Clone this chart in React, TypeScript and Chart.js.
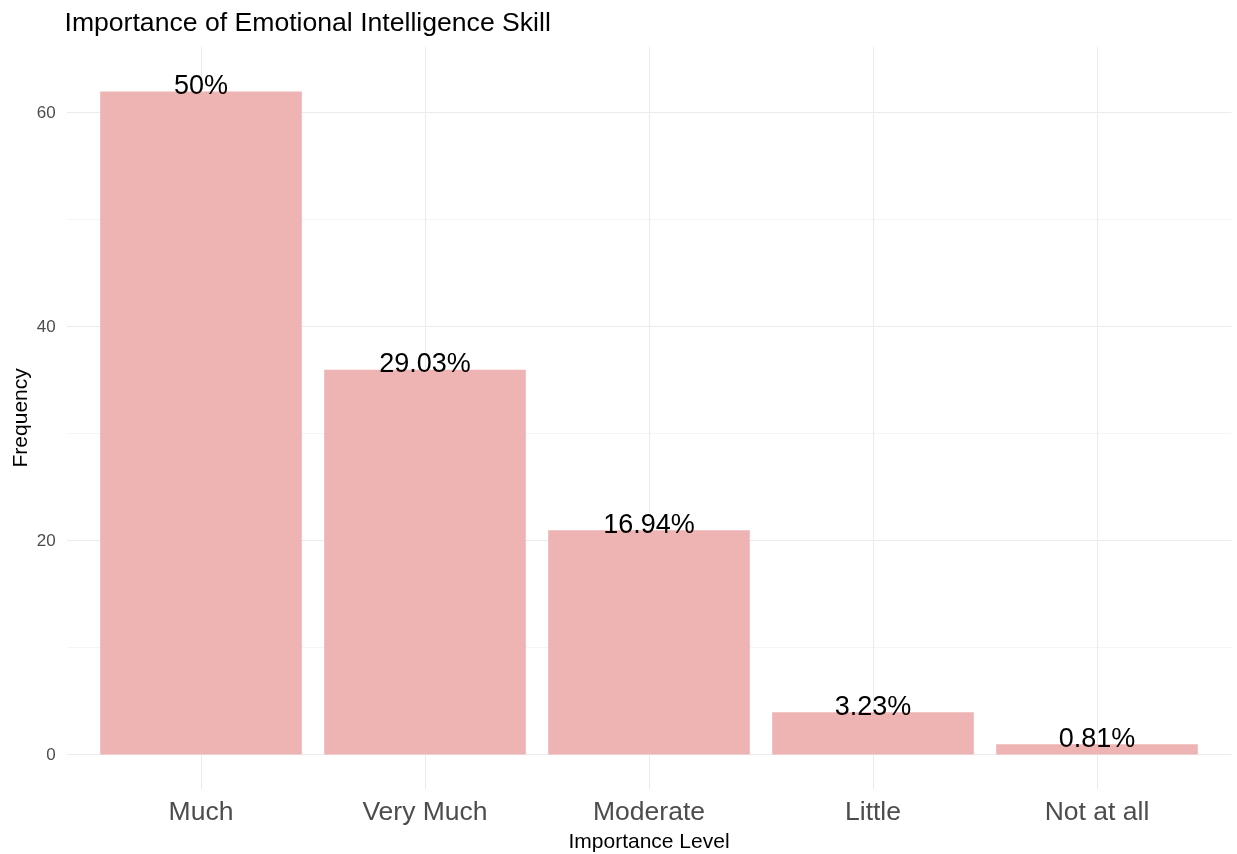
import React, { useEffect, useRef } from "react";
import { Chart, registerables } from "chart.js";

Chart.register(...registerables);

const categories = ["Much", "Very Much", "Moderate", "Little", "Not at all"];
const frequencies = [62, 36, 21, 4, 1];
const percentLabels = ["50%", "29.03%", "16.94%", "3.23%", "0.81%"];
const yMajorTicks = [0, 20, 40, 60];
const yAllTicks = [0, 10, 20, 30, 40, 50, 60];
const chartTitle = "Importance of Emotional Intelligence Skill";
const xTitle = "Importance Level";
const yTitle = "Frequency";

const FONT = '"Liberation Sans", Arial, Helvetica, sans-serif';
const W = 1237;
const H = 854;

const textPlugin = {
  id: "textPlugin",
  afterDatasetsDraw(chart: any) {
    const ctx = chart.ctx;
    const meta = chart.getDatasetMeta(0);
    ctx.save();
    ctx.fillStyle = "#000000";
    ctx.font = `27px ${FONT}`;
    ctx.textAlign = "center";
    ctx.textBaseline = "alphabetic";
    meta.data.forEach((el: any, i: number) => {
      ctx.fillText(percentLabels[i], el.x, el.y + 2.5);
    });
    ctx.restore();
  },
  afterDraw(chart: any) {
    const ctx = chart.ctx;
    const area = chart.chartArea;
    ctx.save();
    ctx.fillStyle = "#000000";
    ctx.font = `26.6px ${FONT}`;
    ctx.textAlign = "left";
    ctx.textBaseline = "alphabetic";
    ctx.fillText(chartTitle, 64.5, 31);

    ctx.font = `21px ${FONT}`;
    ctx.textAlign = "center";
    ctx.fillText(xTitle, (area.left + area.right) / 2, 848);

    ctx.translate(27, (area.top + area.bottom) / 2);
    ctx.rotate(-Math.PI / 2);
    ctx.fillText(yTitle, 0, 0);
    ctx.restore();
  },
};

export default function App() {
  const ref = useRef<HTMLCanvasElement | null>(null);

  useEffect(() => {
    if (!ref.current) return;
    const chart = new Chart(ref.current, {
      type: "bar",
      data: {
        datasets: [
          {
            data: frequencies.map((v, i) => ({ x: i, y: v })),
            backgroundColor: "#EEB3B3",
            borderWidth: 0,
            barPercentage: 0.9,
            categoryPercentage: 1,
          } as any,
        ],
      },
      options: {
        animation: false,
        responsive: false,
        maintainAspectRatio: false,
        layout: { padding: { top: 47, right: 5.6, left: 0, bottom: 0 } },
        plugins: {
          legend: { display: false },
          tooltip: { enabled: false },
          title: { display: false },
        },
        scales: {
          x: {
            type: "linear",
            min: -0.6,
            max: 4.6,
            offset: false,
            afterBuildTicks: (axis: any) => {
              axis.ticks = categories.map((_, i) => ({ value: i }));
            },
            afterFit: (axis: any) => {
              axis.height = 65.3;
            },
            ticks: {
              autoSkip: false,
              maxRotation: 0,
              padding: 8,
              color: "#4D4D4D",
              font: { family: FONT, size: 26.5 },
              callback: (v: any) => categories[Math.round(Number(v))] ?? "",
            },
            grid: {
              offset: false,
              color: "#EBEBEB",
              lineWidth: 1,
              drawTicks: false,
            },
            border: { display: false },
          },
          y: {
            type: "linear",
            min: -3.15,
            max: 66.15,
            afterBuildTicks: (axis: any) => {
              axis.ticks = yAllTicks.map((v) => ({ value: v }));
            },
            afterFit: (axis: any) => {
              axis.width = 66.6;
            },
            ticks: {
              autoSkip: false,
              padding: 11,
              color: "#4D4D4D",
              font: { family: FONT, size: 17 },
              callback: (v: any) =>
                yMajorTicks.includes(Number(v)) ? String(v) : "",
            },
            grid: {
              color: "#EBEBEB",
              lineWidth: (c: any) =>
                c.tick && yMajorTicks.includes(c.tick.value) ? 1 : 0.5,
              drawTicks: false,
            },
            border: { display: false },
          },
        },
      },
      plugins: [textPlugin],
    } as any);
    return () => chart.destroy();
  }, []);

  return (
    <div style={{ position: "fixed", left: 0, top: 0, width: W, height: H, background: "#fff" }}>
      <canvas ref={ref} width={W} height={H} style={{ width: W, height: H, display: "block" }} />
    </div>
  );
}
